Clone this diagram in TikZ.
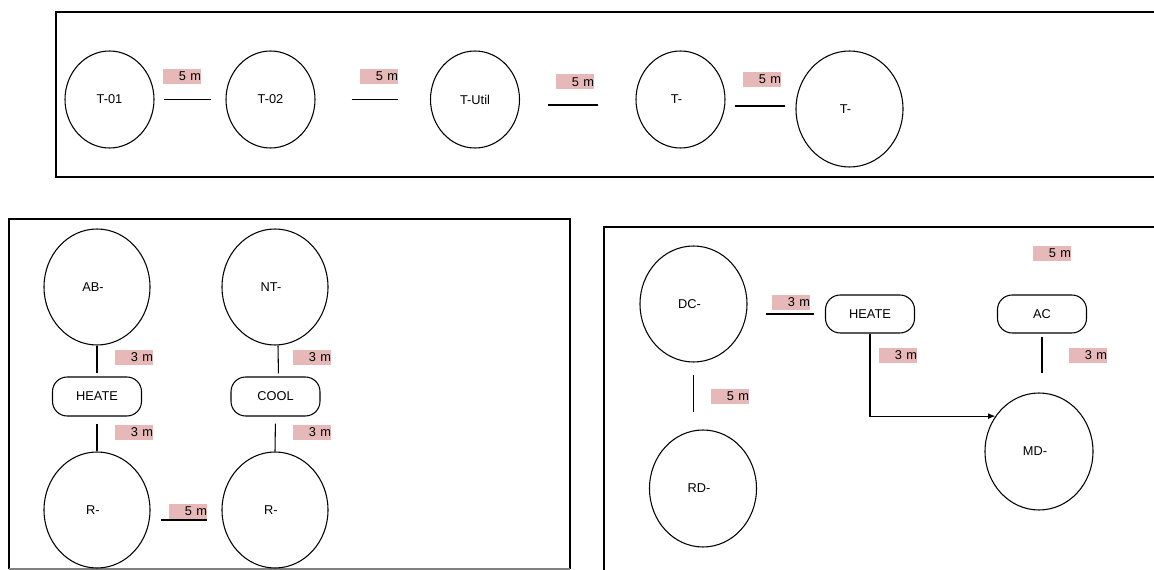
\documentclass[tikz,border=0pt]{standalone}
\usepackage{fontspec}
\setmainfont{Liberation Sans}
\usetikzlibrary{shapes.geometric,arrows.meta,calc}
\definecolor{lblpink}{HTML}{E6B8B7}
\tikzset{
  tank/.style={ellipse, draw, line width=0.8pt, inner sep=0pt, font=\fontsize{9.6}{11}\selectfont},
  pill/.style={rectangle, draw, line width=0.8pt, rounded corners=11pt, inner sep=0pt,
    minimum width=66.75pt, font=\fontsize{9.6}{11}\selectfont},
  lbl/.style={rectangle, fill=lblpink, inner sep=0pt, text width=28.5pt, align=right,
    minimum height=11.25pt, font=\fontsize{9.6}{11}\selectfont},
  pipe/.style={draw, line width=0.8pt},
  thickpipe/.style={draw, line width=1.5pt},
  frame/.style={draw, line width=1pt}
}
\begin{document}
\begin{tikzpicture}[x=0.75pt,y=-0.75pt]
\clip (0,0) rectangle (1154,570);
\fill[white] (0,0) rectangle (1154,570);
% frames
\path[frame] (1160,12) -- (56,12) -- (56,177) -- (1160,177);
\draw[line width=1.8pt] (314,177) -- (333,177);
\path[frame] (9,569) -- (9,219) -- (570,219) -- (570,569);
\draw[gray, line width=1pt] (9,569) -- (570,569);
\path[frame] (604,580) -- (604,227) -- (1160,227);

% top row
\node[tank, minimum width=66.75pt, minimum height=72.75pt] (t1) at (109.5,99.5) {T-01};
\node[tank, minimum width=66.75pt, minimum height=72.75pt] (t2) at (270.5,99.5) {T-02};
\node[tank, minimum width=66.75pt, minimum height=72.75pt] (t3) at (475,99.5) {T-Util};
\node[tank, minimum width=66.75pt, minimum height=72.75pt] (t4) at (680.5,99.5) {T-\kern6pt};
\node[tank, minimum width=80.25pt, minimum height=87pt] (t5) at (849.5,109) {T-\kern6pt};
\node[lbl] (l1) at (182,76.5) {5 m};
\node[lbl] (l2) at (379,76.5) {5 m};
\node[lbl] (l3) at (575,82) {5 m};
\node[lbl] (l4) at (762,79.5) {5 m};
\draw[pipe, shorten <=6.75pt, shorten >=10.5pt] (t1.east) -- (t2.west);
\draw[pipe, shorten <=27pt, shorten >=24pt] (t2.east) -- (t3.west);
\draw[thickpipe, shorten <=21pt, shorten >=27.75pt] ([yshift=-4.125pt]t3.east) -- ([yshift=-4.125pt]t4.west);
\draw[thickpipe, shorten <=6.75pt, shorten >=7.5pt] ([yshift=-4.875pt]t4.east) -- ([yshift=2.25pt]t5.west);

% bottom left
\node[tank, minimum width=79.5pt, minimum height=87pt] (ab) at (97,287) {AB-\kern6pt};
\node[pill, minimum height=29.25pt] (h1) at (97,396.5) {HEATE};
\node[tank, minimum width=79.5pt, minimum height=87pt] (r1) at (97,510) {R-\kern6pt};
\node[tank, minimum width=79.5pt, minimum height=87pt] (nt) at (275,287) {NT-\kern6pt};
\node[pill, minimum height=29.25pt] (c1) at (275.5,396.5) {COOL};
\node[tank, minimum width=79.5pt, minimum height=87pt] (r2) at (275,510) {R-\kern6pt};
\node[lbl] (l5) at (134,357.5) {3 m};
\node[lbl] (l6) at (134,432.5) {3 m};
\node[lbl] (l7) at (312,357.5) {3 m};
\node[lbl] (l8) at (312,432.5) {3 m};
\node[lbl] (l9) at (188,511.5) {5 m};
\draw[pipe, shorten >=2.25pt] (ab.south) -- (h1.north);
\draw[pipe, shorten <=5.25pt] (h1.south) -- (r1.north);
\draw[pipe, shorten >=2.25pt] ([xshift=2.25pt]nt.south) -- ([xshift=2.25pt]c1.north);
\draw[pipe, shorten <=5.25pt] (c1.south) -- (r2.north);
\draw[pipe, shorten <=7.5pt, shorten >=10.5pt] ([yshift=-7.5pt]r1.east) -- ([yshift=-7.5pt]r2.west);

% bottom right
\node[tank, minimum width=80.25pt, minimum height=87pt] (dc) at (693.5,304) {DC-\kern6pt};
\node[pill, minimum height=28.5pt] (h2) at (870,314) {HEATE};
\node[pill, minimum height=28.5pt] (ac) at (1042,314) {AC};
\node[tank, minimum width=81pt, minimum height=87.75pt] (md) at (1039,451.5) {MD-\kern6pt};
\node[tank, minimum width=80.25pt, minimum height=87.75pt] (rd) at (703,488.5) {RD-\kern6pt};
\node[lbl] (l10) at (791,302.5) {3 m};
\node[lbl] (l11) at (898,355.5) {3 m};
\node[lbl] (l12) at (1088,355.5) {3 m};
\node[lbl] (l13) at (1052,253.5) {5 m};
\node[lbl] (l14) at (730,396.5) {5 m};
\draw[pipe, shorten <=13.5pt, shorten >=8.25pt] ([yshift=-7.5pt]dc.east) -- ([yshift=-7.5pt]dc.east -| h2.west);
\draw[pipe, shorten <=9pt, shorten >=12.75pt] (dc.south) -- (dc.south |- rd.north);
\draw[pipe, shorten <=2.25pt, shorten >=14.25pt] (ac.south) -- (ac.south |- md.north);
\draw[pipe, -{Latex[length=5.5pt,width=4.5pt]}] (h2.south) |- (md.141.6);
\end{tikzpicture}
\end{document}
